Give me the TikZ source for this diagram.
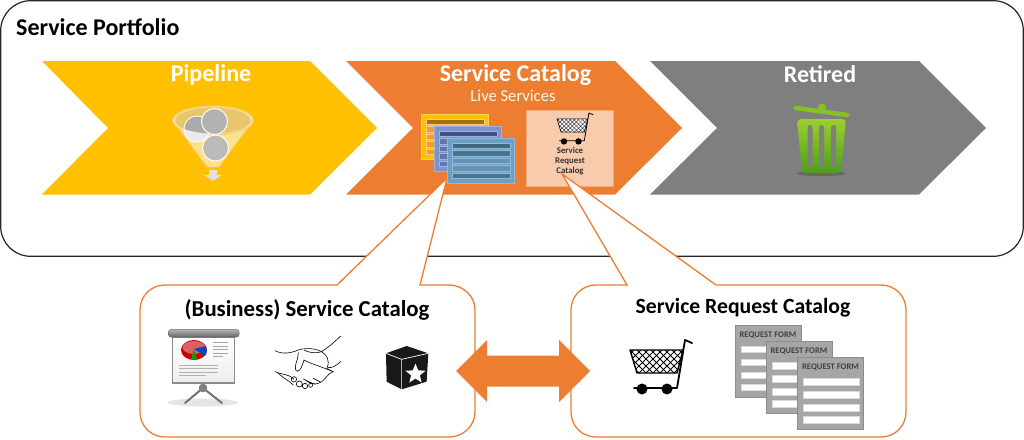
\documentclass[tikz,border=0pt]{standalone}
\usepackage{fontspec}
\setmainfont{Carlito}
\usetikzlibrary{shapes.geometric}
\definecolor{cyel}{HTML}{FFC000}
\definecolor{cora}{HTML}{ED7D31}
\definecolor{cgry}{HTML}{7F7F7F}
\definecolor{cpea}{HTML}{F8CBAD}
\definecolor{cform}{HTML}{A6A6A6}
\definecolor{lb}{HTML}{6FA0C4}
\definecolor{lbd}{HTML}{44687F}
\definecolor{lbl}{HTML}{8FBCDC}
\definecolor{mb}{HTML}{7C93CB}
\definecolor{mbd}{HTML}{3F5382}
\definecolor{mbr}{HTML}{6076AE}
\definecolor{mbl}{HTML}{A3B4DC}
\definecolor{cardbar}{HTML}{A86E10}
\definecolor{cardrow}{HTML}{F79A2B}
\definecolor{cardrl}{HTML}{FBCB8E}
\definecolor{trt}{HTML}{9CCF2F}
\definecolor{trb}{HTML}{4E9E1C}
\definecolor{trl}{HTML}{86C322}
\definecolor{fbody}{HTML}{FFE08C}
\definecolor{ftan}{HTML}{E8C66C}
\definecolor{frim}{HTML}{E9CE86}
\tikzset{
  chev/.style={draw=none},
  hugetxt/.style={font=\bfseries\fontsize{24}{28}\selectfont,text=white,inner sep=0pt},
  callout/.style={draw=cora,line width=1.3pt,fill=white,line join=miter},
  formtxt/.style={font=\bfseries\fontsize{8.6}{10}\selectfont,text=black!75,inner sep=0pt},
  formbar/.style={fill=white,draw=none},
  sreq/.style={font=\bfseries\fontsize{8.8}{9.9}\selectfont,text=black!80,inner sep=0pt,align=center},
}
% cart: origin x y, scale, line width
\newcommand{\mycart}[4]{%
\begin{scope}[shift={(#1,#2)},scale=#3]
  \begin{scope}
    \clip (0,10) -- (53,10) -- (47,33) -- (7,33) -- cycle;
    \fill[white] (-5,5) rectangle (60,40);
    \foreach \k in {-40,-33,...,80} {
      \draw[black,line width=0.55*#4] (\k,5) -- ++(30,30);
      \draw[black,line width=0.55*#4] (\k,5) -- ++(-30,30);
    }
  \end{scope}
  \draw[black,line width=#4,line join=round] (0,10) -- (53,10) -- (47,33) -- (7,33) -- cycle;
  \draw[black,line width=1.3*#4,line cap=round,line join=round] (4,48) -- (47,48) -- (55,0) -- (62,3);
  \fill[black] (12,49) circle (5.5) (37,49) circle (5.5);
\end{scope}}
% card stack sheet: x y fill border head rowfill rowline
\newcommand{\mycard}[7]{%
\begin{scope}[shift={(#1,#2)}]
  \fill[fill=#3,draw=#4,line width=0.5pt] (0,0) rectangle (67,45);
  \fill[fill=#5,draw=#7,line width=0.5pt] (5,5) rectangle (63,10.5);
  \foreach \yy in {12.5,20,27.5,35} \fill[fill=#6,draw=#7,line width=0.5pt] (5,\yy) rectangle (63,\yy+5.5);
\end{scope}}
% request form
\newcommand{\myform}[3]{%
\begin{scope}[shift={(#1,#2)}]
  \fill[cform,draw=black!45,line width=0.4pt] (0,0) rectangle (66,72);
  \node[formtxt] (#3) at (33,10) {REQUEST FORM};
  \foreach \yy in {21,34,47,59} \fill[formbar,draw=black!15,line width=0.3pt] (6,\yy) rectangle (61.5,\yy+6.5);
\end{scope}}
\begin{document}
\begin{tikzpicture}[x=1pt,y=-1pt]
\useasboundingbox (0,0) rectangle (1024,439);
\fill[white] (0,0) rectangle (1024,439);
% outer box
\draw[black!85,line width=1.2pt,rounded corners=30pt] (0.7,0.7) rectangle (1023.3,256.3);
\node[hugetxt,text=black,anchor=west] (portfolio) at (16,27.5) {Service Portfolio};
% chevrons
\fill[cyel,chev] (42,61) -- (310,61) -- (377,128) -- (310,194.5) -- (42,194.5) -- (108,128) -- cycle;
\fill[cora,chev] (346,61) -- (615,61) -- (682,128) -- (615,194.5) -- (346,194.5) -- (413,128) -- cycle;
\fill[cgry,chev] (650,61) -- (919,61) -- (986,128) -- (919,194.5) -- (650,194.5) -- (717,128) -- cycle;
\node[hugetxt] (pipeline) at (211,74.5) {Pipeline};
\node[hugetxt] (catalog) at (515.5,75) {Service Catalog};
\node[hugetxt] (retired) at (820,74.5) {Retired};
\node[inner sep=0pt,text=white!92!cora,font=\fontsize{16.6}{18}\selectfont] (live) at (513,96) {Live Services};
% funnel
\fill[fbody,draw=frim,line width=0.8pt] (172.5,120) -- (207,167) -- (219,167) -- (253.5,120) -- cycle;
\fill[fbody,draw=frim,line width=0.8pt] (213,120.5) ellipse (40.5 and 14.5);
\fill[ftan,draw=frim,line width=0.5pt] (213,120.5) ellipse (37.5 and 13);
\fill[black!27,draw=white!92!cyel,line width=1pt] (215.5,148) circle (13);
\fill[black!8,draw=white!92!cyel,line width=1pt] (197,129) circle (13);
\begin{scope}
  \clip (213,120.5) ellipse (37.5 and 13);
  \fill[black!33] (197,129) circle (12.5);
\end{scope}
\fill[black!30,draw=white!92!cyel,line width=1pt] (214.5,121.5) circle (13);
\fill[black!12,draw=none] (209,170) -- (217,170) -- (217,175) -- (222,175) -- (213,181) -- (204,175) -- (209,175) -- cycle;
% trash can
\fill[black!62,opacity=0.8] (821.5,173.5) ellipse (25 and 2.5);
\shade[top color=trt,bottom color=trb,rounded corners=4pt,draw=none]
   (797,119) -- (846,119) -- (841,173) -- (802,173) -- cycle;
\fill[cgry,rounded corners=2.5pt] (807.5,125) rectangle (812.5,168);
\fill[cgry,rounded corners=2.5pt] (819,125) rectangle (824,168);
\fill[cgry,rounded corners=2.5pt] (831,125) rectangle (836,168);
\draw[trl,line width=4.5pt,line cap=round] (796,108) -- (847,115);
\fill[trl] (822,107.5) circle (4);
% peach box and small cart
\fill[cpea,draw=cora!40!cpea,line width=0.6pt] (526,110) rectangle (613.5,186);
\mycart{557}{113}{0.58}{0.6pt}
% callouts
\draw[callout] (165,285) -- (337,285) -- (447,178) -- (420,285) -- (449,285) .. controls (463,285) and (475,296) .. (475,310)
  -- (475,412) .. controls (475,426) and (463,437) .. (449,437) -- (165,437)
  .. controls (151,437) and (140,426) .. (140,412) -- (140,310) .. controls (140,296) and (151,285) .. (165,285) -- cycle;
\draw[callout] (596,285) -- (627,285) -- (562,174) -- (716,285) -- (881,285) .. controls (895,285) and (906,296) .. (906,310)
  -- (906,412) .. controls (906,426) and (895,437) .. (881,437) -- (596,437)
  .. controls (582,437) and (571,426) .. (571,412) -- (571,310) .. controls (571,296) and (582,285) .. (596,285) -- cycle;
\node[sreq] (srq) at (570,161.5) {Service\\Request\\Catalog};
% cards over the tip
\mycard{421.5}{114}{cyel}{cyel!70!white}{cardbar}{cardrow}{cardrl}
\mycard{434.5}{126}{mb}{mbl}{mbd}{mbr}{mbl}
\mycard{447}{138}{lb}{lbl}{lbd}{lb!92!black}{lbl}
\foreach \yy in {150.5,173} \fill[lbd!80!lb,draw=lbl,line width=0.5pt] (452,\yy) rectangle (510,\yy+5.5);
% double arrow
\fill[cora] (456,371) -- (487,340) -- (487,355.5) -- (559,355.5) -- (559,340) -- (590,371) -- (559,402) -- (559,386.5) -- (487,386.5) -- (487,402) -- cycle;
\node[hugetxt,text=black,font=\bfseries\fontsize{22.8}{26}\selectfont] (bsc) at (307,309.5) {(Business) Service Catalog};
\node[hugetxt,text=black,font=\bfseries\fontsize{21.7}{25}\selectfont] (src) at (743,308) {Service Request Catalog};
% presentation board
\fill[black!40,opacity=0.25] (203,402.5) ellipse (35 and 4);
\draw[black!55,line width=2pt,line cap=round] (203,388) -- (185,403) (203,388) -- (222,403);
\fill[black!50] (203,388) circle (4.3);
\shade[top color=white,bottom color=black!7,draw=black!45,line width=1.2pt] (172.5,337) rectangle (234.5,383);
\shade[top color=black!30,bottom color=black!60,draw=black!60,rounded corners=2.5pt,line width=0.5pt] (168.5,329.5) rectangle (239,337);
\fill[red!80!black] (194,350) ellipse (13 and 10);
\fill[red!55!white!85!black] (194,347.5) ellipse (11.5 and 6.5);
\fill[blue!65!cyan!80!black] (194,349) -- (206,346) .. controls (207,350) and (207,354) .. (205,356) -- cycle;
\fill[green!65!black] (194,349) -- (197,359.5) -- (191,359.5) -- cycle;
\foreach \yy in {342,346,349.5,353} \draw[black!35,line width=1pt] (213,\yy) -- (228,\yy);
\draw[black!35,line width=1pt] (213,356.5) -- (223,356.5);
\foreach \yy in {365,368.5,372} \draw[black!30,line width=1pt] (179,\yy) -- (218,\yy);
\draw[black!30,line width=1pt] (179,375.5) -- (206,375.5);
% handshake
\begin{scope}[shift={(150,310)},scale=0.3333,black,line width=0.6pt,line cap=round,line join=round]
  \draw (572,78) .. controls (550,100) and (530,115) .. (515,125) .. controls (490,112) and (460,115) .. (445,120) .. controls (425,128) and (400,135) .. (375,122);
  \draw (515,125) .. controls (530,135) and (540,150) .. (532,172) .. controls (545,175) and (555,170) .. (572,155);
  \draw (445,128) .. controls (445,150) and (432,165) .. (437,180) .. controls (445,192) and (455,175) .. (462,150) .. controls (480,160) and (500,165) .. (550,185);
  \draw (462,120) .. controls (480,130) and (500,130) .. (515,125);
  \draw (550,185) .. controls (530,190) and (528,212) .. (505,220) .. controls (490,228) and (480,215) .. (460,207);
  \draw (375,185) .. controls (395,195) and (415,190) .. (432,208);
  \draw (385,190) .. controls (400,205) and (415,210) .. (430,225);
  \draw (432,208) circle (8) (448,222) circle (9) (465,228) circle (8) (482,226) circle (6);
  \draw (490,205) -- (510,215) (470,215) -- (495,222) (530,175) -- (545,183);
\end{scope}
% star box
\begin{scope}[shift={(150,310)},scale=0.3333]
  \fill[black!90] (770,108) -- (835,130) -- (830,215) -- (755,238) -- (710,215) -- (708,130) -- cycle;
  \draw[white,line width=0.7pt] (708,130) -- (755,148) -- (835,130) (755,148) -- (755,238);
\end{scope}
\node[star,star points=5,star point ratio=2.3,fill=white,draw=none,minimum size=21pt,inner sep=0pt] (star) at (415.5,374) {};
% big cart
\mycart{630}{340}{1}{1.4pt}
% forms
\myform{735}{325}{fa}
\myform{766}{341.5}{fb}
\myform{797.5}{357.5}{fc}
\end{tikzpicture}
\end{document}
